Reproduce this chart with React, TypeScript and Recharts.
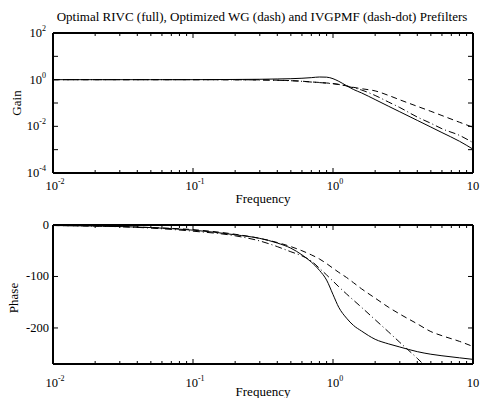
import { LineChart, Line, XAxis, YAxis } from 'recharts';

const FONT = '"Liberation Serif", "Times New Roman", serif';

// frequency grid (rad/s)
const freq = [0.01, 0.02, 0.05, 0.1, 0.2, 0.3, 0.4, 0.5, 0.6, 0.7, 0.8, 0.9, 1, 1.1, 1.25, 1.4, 1.6, 2, 2.5, 3, 4, 5, 6, 8, 10];

// gain: optimal RIVC (full), optimized WG (dash), IVGPMF (dash-dot)
const gainRivc = [1, 1, 1, 1, 1.02, 1.04, 1.07, 1.1, 1.15, 1.22, 1.3, 1.28, 1.1, 0.85, 0.55, 0.38, 0.27, 0.14, 0.072, 0.042, 0.018, 0.0093, 0.0054, 0.0023, 0.00105];
const gainWg = [1, 1, 1, 1, 0.99, 0.98, 0.95, 0.91, 0.86, 0.8, 0.76, 0.72, 0.68, 0.63, 0.54, 0.47, 0.41, 0.33, 0.21, 0.137, 0.072, 0.044, 0.029, 0.015, 0.0091];
const gainIvg = [1, 1, 1, 1, 0.99, 0.97, 0.94, 0.9, 0.85, 0.79, 0.75, 0.71, 0.67, 0.62, 0.53, 0.45, 0.36, 0.21, 0.109, 0.064, 0.025, 0.0135, 0.0079, 0.0041, 0.002];

// phase (deg)
const phaseRivc = [-1, -2, -5, -10, -19, -26, -35, -45, -58, -72, -88, -107, -135, -160, -181, -195, -206, -222, -231, -237, -246, -251, -254, -258, -261];
const phaseWg = [-1, -2, -5, -9, -18, -26, -34, -42, -50, -58, -66, -75, -84, -92, -102, -112, -124, -142, -160, -173, -192, -207, -215, -226, -236];
const phaseIvg = [-1, -2, -6, -12, -21, -31, -42, -52, -60, -70, -84, -97, -109, -120, -134, -146, -160, -184, -208, -228, -259, -285, null, null, null];

const gainTicks = [1e-4, 1e-3, 1e-2, 1e-1, 1, 10, 100];
const phaseTicks = [-200, -100, 0];

const gainData = freq.map((f, i) => ({ f, rivc: gainRivc[i], wg: gainWg[i], ivg: gainIvg[i] }));
const phaseData = freq.map((f, i) => ({ f, rivc: phaseRivc[i], wg: phaseWg[i], ivg: phaseIvg[i] }));

const xTicks: number[] = [];
for (let d = -2; d <= 0; d++) {
  for (let m = 1; m <= 9; m++) xTicks.push(Number((m * Math.pow(10, d)).toPrecision(3)));
}
xTicks.push(10);

const expOf = (v: number) => Math.round(Math.log10(v));
const isDecade = (v: number) => Math.abs(Math.log10(v) - expOf(v)) < 1e-6;

const bottomTick = (labelDy: number) => (p: any) => {
  const v = p.payload.value;
  const major = isDecade(v);
  return (
    <g>
      <line x1={p.x} x2={p.x} y1={p.y} y2={p.y - (major ? 5 : 3)} stroke="#000" />
      {major && (
        <text x={p.x + 2} y={p.y + labelDy} textAnchor="middle" fontSize={12.5} fill="#000">
          10<tspan dy={-6} fontSize={8}>{expOf(v)}</tspan>
        </text>
      )}
    </g>
  );
};

const topTick = (p: any) => {
  const major = isDecade(p.payload.value);
  return <line x1={p.x} x2={p.x} y1={p.y} y2={p.y + (major ? 5 : 3)} stroke="#000" />;
};

const rightTick = (p: any) => <line x1={p.x} x2={p.x - 5} y1={p.y} y2={p.y} stroke="#000" />;

const gainLeftTick = (p: any) => {
  const e = expOf(p.payload.value);
  return (
    <g>
      <line x1={p.x} x2={p.x + 5} y1={p.y} y2={p.y} stroke="#000" />
      {e % 2 === 0 && (
        <text x={p.x - 7} y={p.y + 4} textAnchor="end" fontSize={12.5} fill="#000">
          10<tspan dy={-6} fontSize={8}>{e}</tspan>
        </text>
      )}
    </g>
  );
};

const phaseLeftTick = (p: any) => (
  <g>
    <line x1={p.x} x2={p.x + 5} y1={p.y} y2={p.y} stroke="#000" />
    <text x={p.x - 4} y={p.y + 4} textAnchor="end" fontSize={12.5} fill="#000">
      {p.payload.value}
    </text>
  </g>
);

const boxLine = { stroke: '#000', strokeWidth: 2 };

function Panel({ data, top, height, margin, yScale, yDomain, yTicks, leftTick, labelDy }: any) {
  return (
    <div style={{ position: 'absolute', left: 0, top }}>
      <LineChart width={480} height={height} data={data} margin={margin}>
        <XAxis xAxisId="b" dataKey="f" type="number" scale="log" domain={[0.01, 10]} allowDataOverflow
          ticks={xTicks} interval={0} tickSize={0} tickMargin={0} tickLine={false} height={30}
          axisLine={boxLine} tick={bottomTick(labelDy)} />
        <XAxis xAxisId="t" orientation="top" dataKey="f" type="number" scale="log" domain={[0.01, 10]} allowDataOverflow
          ticks={xTicks} interval={0} tickSize={0} tickMargin={0} tickLine={false} height={1}
          axisLine={boxLine} tick={topTick} />
        <YAxis yAxisId="l" type="number" scale={yScale} domain={yDomain} allowDataOverflow
          ticks={yTicks} interval={0} tickSize={0} tickMargin={0} tickLine={false} width={40}
          axisLine={boxLine} tick={leftTick} />
        <YAxis yAxisId="r" orientation="right" type="number" scale={yScale} domain={yDomain} allowDataOverflow
          ticks={yTicks} interval={0} tickSize={0} tickMargin={0} tickLine={false} width={5}
          axisLine={boxLine} tick={rightTick} />
        <Line xAxisId="b" yAxisId="l" dataKey="wg" type="monotone" stroke="#000" strokeWidth={1}
          strokeDasharray="6 4" dot={false} isAnimationActive={false} />
        <Line xAxisId="b" yAxisId="l" dataKey="ivg" type="monotone" stroke="#000" strokeWidth={1}
          strokeDasharray="7 3 1 3" dot={false} isAnimationActive={false} />
        <Line xAxisId="b" yAxisId="l" dataKey="rivc" type="monotone" stroke="#000" strokeWidth={1}
          dot={false} isAnimationActive={false} />
      </LineChart>
    </div>
  );
}

export default function App() {
  return (
    <div style={{ position: 'fixed', left: 0, top: 0, width: 480, height: 398, background: '#fff', fontFamily: FONT }}>
      <Panel data={gainData} top={0} height={210} margin={{ top: 32, right: 2, bottom: 7, left: 13 }}
        yScale="log" yDomain={[1e-4, 100]} yTicks={gainTicks} leftTick={gainLeftTick} labelDy={17} />
      <Panel data={phaseData} top={210} height={188} margin={{ top: 14, right: 2, bottom: 4, left: 13 }}
        yScale="linear" yDomain={[-270, 0]} yTicks={phaseTicks} leftTick={phaseLeftTick} labelDy={23} />
      <svg width={480} height={398} style={{ position: 'absolute', left: 0, top: 0, pointerEvents: 'none' }}
        fontFamily={FONT} fontSize={13} fill="#000">
        <text x={262} y={21} textAnchor="middle">
          Optimal RIVC (full), Optimized WG (dash) and IVGPMF (dash-dot) Prefilters
        </text>
        <text x={21} y={103} textAnchor="middle" transform="rotate(-90 21 103)">Gain</text>
        <text x={263} y={203} textAnchor="middle">Frequency</text>
        <text x={18} y={298} textAnchor="middle" transform="rotate(-90 18 298)">Phase</text>
        <text x={263} y={396} textAnchor="middle">Frequency</text>
      </svg>
    </div>
  );
}
